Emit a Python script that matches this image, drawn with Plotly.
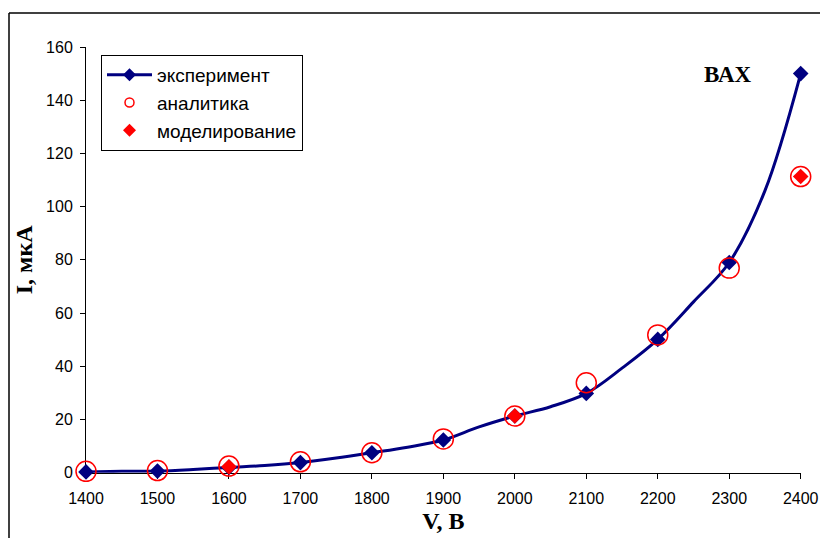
import plotly.graph_objects as go

# --- data ---
V_curve = [1400, 1450, 1500, 1550, 1600, 1650, 1700, 1750, 1800, 1850, 1900,
           1950, 2000, 2050, 2100, 2150, 2200, 2250, 2300, 2350, 2400]
I_curve = [0.3, 0.5, 0.6, 1.2, 2.0, 2.7, 3.8, 5.5, 7.5, 9.6, 12.3,
           17.2, 21.3, 24.8, 29.8, 39.3, 50.1, 64.2, 79.0, 106.0, 150.0]

V_exp = [1400, 1500, 1600, 1700, 1800, 1900, 2000, 2100, 2200, 2300, 2400]
I_exp = [0.3, 0.6, 2.0, 3.8, 7.5, 12.3, 21.3, 29.8, 50.1, 79.0, 150.0]

V_an = [1400, 1500, 1600, 1700, 1800, 1900, 2000, 2100, 2200, 2300, 2400]
I_an = [0.5, 0.8, 2.5, 4.1, 7.5, 12.7, 21.3, 33.8, 51.8, 76.9, 111.3]

V_mod = [1600, 2000, 2400]
I_mod = [2.2, 21.3, 111.3]

x_ticks = [1400, 1500, 1600, 1700, 1800, 1900, 2000, 2100, 2200, 2300, 2400]
y_ticks = [0, 20, 40, 60, 80, 100, 120, 140, 160]

names = ["эксперимент", "аналитика", "моделирование"]

NAVY = "#000080"
RED = "#FF0000"
W, H = 820, 538

def px(x):
    return x / W

def py(y):
    return 1 - y / H

fig = go.Figure()

# experiment curve (smoothed line)
fig.add_trace(go.Scatter(x=V_curve, y=I_curve, mode="lines",
                         line=dict(color=NAVY, width=3, shape="spline", smoothing=1),
                         showlegend=False, cliponaxis=False, hoverinfo="skip"))
# experiment markers
fig.add_trace(go.Scatter(x=V_exp, y=I_exp, mode="markers",
                         marker=dict(symbol="diamond", size=12, color=NAVY),
                         showlegend=False, cliponaxis=False))
# analytics
fig.add_trace(go.Scatter(x=V_an, y=I_an, mode="markers",
                         marker=dict(symbol="circle-open", size=20,
                                     line=dict(color=RED, width=1.5), color=RED),
                         showlegend=False, cliponaxis=False))
# modelling
fig.add_trace(go.Scatter(x=V_mod, y=I_mod, mode="markers",
                         marker=dict(symbol="diamond", size=12, color=RED),
                         showlegend=False, cliponaxis=False))

# legend entries
fig.add_trace(go.Scatter(x=[None], y=[None], mode="lines+markers", name=names[0],
                         line=dict(color=NAVY, width=3),
                         marker=dict(symbol="diamond", size=10, color=NAVY),
                         legendgroup="a"))
fig.add_trace(go.Scatter(x=[None], y=[None], mode="markers", name=names[1],
                         marker=dict(symbol="circle-open", size=9,
                                     line=dict(color=RED, width=1.5), color=RED),
                         legendgroup="b"))
fig.add_trace(go.Scatter(x=[None], y=[None], mode="markers", name=names[2],
                         marker=dict(symbol="diamond", size=10, color=RED),
                         legendgroup="c"))

axis_common = dict(showgrid=False, zeroline=False, showline=True, linecolor="black",
                   linewidth=1, ticks="outside", ticklen=5, tickcolor="black",
                   tickwidth=1, mirror=False, layer="below traces",
                   tickfont=dict(family="Liberation Sans, Arial", size=16, color="black"),
                   automargin=False)

fig.update_layout(
    width=W, height=H,
    margin=dict(l=0, r=0, t=0, b=0),
    paper_bgcolor="white", plot_bgcolor="white",
    xaxis=dict(range=[1400, 2400], tickvals=x_ticks, domain=[px(86), px(800.7)],
               title=dict(text="V, В", standoff=6,
                          font=dict(family="Liberation Serif, Times New Roman", size=24,
                                    color="black", weight="bold")),
               ticklabelstandoff=6, **axis_common),
    yaxis=dict(range=[0, 160], tickvals=y_ticks, domain=[py(472.7), py(47)],
               title=dict(text="I, мкА", standoff=6,
                          font=dict(family="Liberation Serif, Times New Roman", size=24,
                                    color="black", weight="bold")),
               ticklabelstandoff=4, **axis_common),
    legend=dict(x=px(101), y=py(55), xanchor="left", yanchor="top",
                bgcolor="white", bordercolor="black", borderwidth=1,
                font=dict(family="Liberation Sans, Arial", size=19, color="black"),
                itemwidth=45, tracegroupgap=11, traceorder="normal"),
    showlegend=True,
    annotations=[dict(text="<b>ВАХ</b>", x=px(728), y=py(74), xref="paper", yref="paper",
                      xanchor="center", yanchor="middle", showarrow=False,
                      font=dict(family="Liberation Serif, Times New Roman", size=23,
                                color="black"))],
    shapes=[
        dict(type="line", xref="paper", yref="paper", x0=px(9), x1=1.0, y0=py(13), y1=py(13),
             line=dict(color="black", width=1.5)),
        dict(type="line", xref="paper", yref="paper", x0=px(9), x1=px(9), y0=py(13), y1=0,
             line=dict(color="black", width=1.5)),
    ],
)

fig.write_html("out.html", config={"displayModeBar": False},
               post_script="document.body.style.margin='0';document.body.style.overflow='hidden';")
